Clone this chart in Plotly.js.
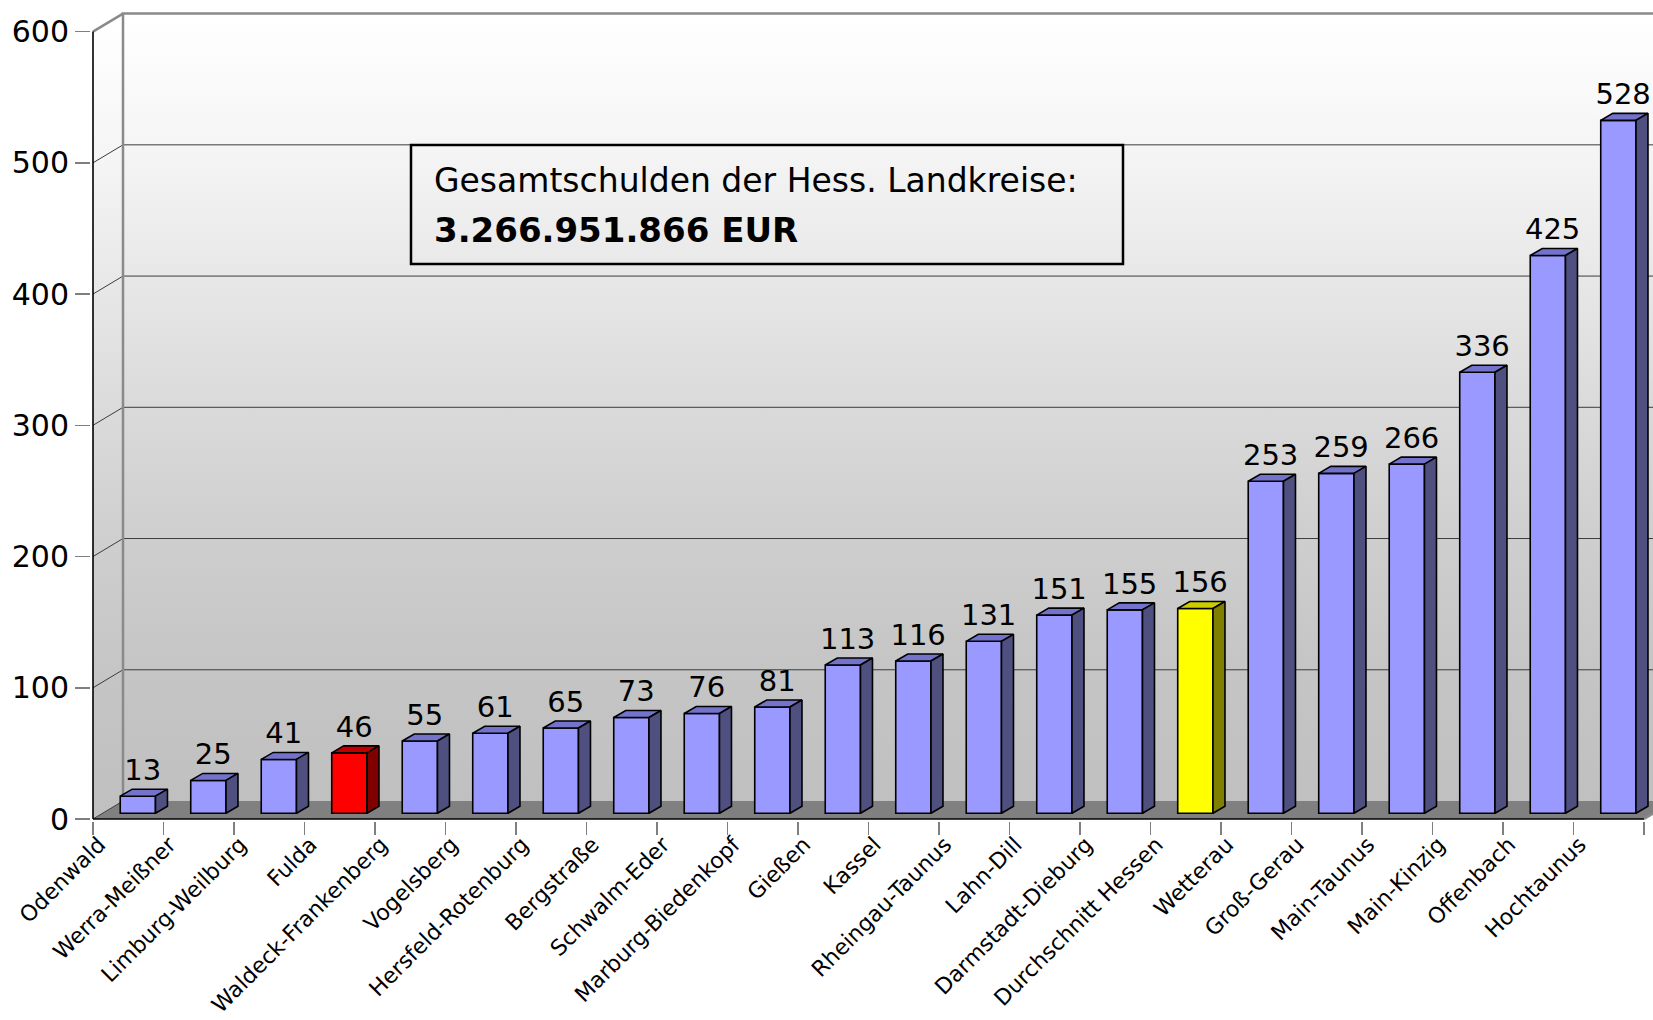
<!DOCTYPE html>
<html>
<head>
<meta charset="utf-8">
<script src="https://cdn.plot.ly/plotly-3.0.1.min.js"></script>
<style>
  html, body { margin: 0; padding: 0; background: #ffffff; }
  #chart { width: 1653px; height: 1020px; }
</style>
</head>
<body>
<div id="chart"></div>
<script>
// ---------------- data ----------------
const categories = ['Odenwald', 'Werra-Meißner', 'Limburg-Weilburg', 'Fulda', 'Waldeck-Frankenberg',
  'Vogelsberg', 'Hersfeld-Rotenburg', 'Bergstraße', 'Schwalm-Eder', 'Marburg-Biedenkopf', 'Gießen',
  'Kassel', 'Rheingau-Taunus', 'Lahn-Dill', 'Darmstadt-Dieburg', 'Durchschnitt Hessen', 'Wetterau',
  'Groß-Gerau', 'Main-Taunus', 'Main-Kinzig', 'Offenbach', 'Hochtaunus'];
const values = [13, 25, 41, 46, 55, 61, 65, 73, 76, 81, 113, 116, 131, 151, 155, 156, 253, 259, 266, 336, 425, 528];
const yTickValues = [0, 100, 200, 300, 400, 500, 600];
const redCategory = 'Fulda';
const yellowCategory = 'Durchschnitt Hessen';
const boxLine1 = 'Gesamtschulden der Hess. Landkreise:';
const boxLine2 = '3.266.951.866 EUR';

// ---------------- geometry / style ----------------
const W = 1653, H = 1020;
const M = { l: 91, r: 0, t: 4, b: 199 };
const plotW = W - M.l - M.r, plotH = H - M.t - M.b;
const Y0PX = 819;                 // pixel row of value 0 on the front plane
const KY = 787.4 / 600;           // px per value unit
const XLPX = 93;                  // pixel column of the front-left corner
const KX = 70.5;                  // px per category
const yMax = yTickValues[yTickValues.length - 1];
const n = categories.length;

const xStart = -0.5 - (XLPX - M.l) / KX;
const xRange = [xStart, xStart + plotW / KX];
const yRange = [-((H - M.b) - Y0PX) / KY, (Y0PX - M.t) / KY];

const DX = 30 / KX, DY = 18 / KY;        // depth of the 3D box
const f1 = 0.32;                          // depth of bar front plane
const bx = f1 * DX, bz = f1 * DY;
const sdx = 12 / KX, sdy = 7 / KY;        // depth of each bar
const barW = 0.5;
const labelLift = 2 / KY;

const FONT = 'DejaVu Sans, Verdana, sans-serif';
const bgScale = [[0, '#c0c0c0'], [0.17, '#c5c5c5'], [0.33, '#cecece'], [0.5, '#dadada'],
                 [0.67, '#e8e8e8'], [0.83, '#f5f5f5'], [1, '#ffffff']];

function colorsFor(cat) {
  if (cat === redCategory) return { front: '#ff0000', top: '#c00000', side: '#800000' };
  if (cat === yellowCategory) return { front: '#ffff00', top: '#cccc00', side: '#808000' };
  return { front: '#9999ff', top: '#7373cc', side: '#4f4f80' };
}

const traces = [];
const xL = -0.5, xR = n - 0.5, xFar = xRange[1] + 1;

// back wall
traces.push({
  type: 'scatter', mode: 'none', fill: 'toself', hoverinfo: 'skip',
  x: [xL + DX, xFar, xFar, xL + DX, xL + DX],
  y: [DY, DY, yMax + DY, yMax + DY, DY],
  fillgradient: { type: 'vertical', colorscale: bgScale, start: DY, stop: yMax + DY }
});
// left side wall
traces.push({
  type: 'scatter', mode: 'none', fill: 'toself', hoverinfo: 'skip',
  x: [xL, xL + DX, xL + DX, xL, xL],
  y: [0, DY, yMax + DY, yMax, 0],
  fillgradient: { type: 'vertical', colorscale: bgScale, start: DY / 2, stop: yMax + DY / 2 }
});
// floor
traces.push({
  type: 'scatter', mode: 'none', fill: 'toself', fillcolor: '#808080', hoverinfo: 'skip',
  x: [xL, xR, xR + DX, xFar, xFar, xL + DX, xL],
  y: [0, 0, DY, DY, DY, DY, 0]
});
// gridlines (back wall) + side diagonals
const gx = [], gy = [];
yTickValues.forEach(v => {
  if (v > 0 && v < yMax) { gx.push(xL + DX, xFar, null); gy.push(v + DY, v + DY, null); }
  if (v < yMax) { gx.push(xL, xL + DX, null); gy.push(v, v + DY, null); }
});
traces.push({ type: 'scatter', mode: 'lines', x: gx, y: gy, hoverinfo: 'skip',
  line: { color: '#3c3c3c', width: 1 } });
// wall edges (gray)
traces.push({ type: 'scatter', mode: 'lines', hoverinfo: 'skip',
  x: [xL + DX, xL + DX, xFar, null, xL, xL + DX, null, xR, xR + DX],
  y: [DY, yMax + DY, yMax + DY, null, yMax, yMax + DY, null, 0, DY],
  line: { color: '#8a8a8a', width: 2.5 } });
// front axis lines (black)
traces.push({ type: 'scatter', mode: 'lines', hoverinfo: 'skip',
  x: [xL, xL, null, xL, xR], y: [yMax, 0, null, 0, 0],
  line: { color: '#000000', width: 1.6 } });

// ---------------- bars (overlay axes) ----------------
const idx = categories.map((c, i) => i);
const frontColors = categories.map(c => colorsFor(c).front);
traces.push({
  type: 'bar', xaxis: 'x2', yaxis: 'y2', hoverinfo: 'skip',
  x: idx.map(i => i + bx), y: values, base: bz, width: barW,
  marker: { color: frontColors, line: { color: '#000000', width: 1.6 } }
});
categories.forEach((cat, i) => {
  const c = colorsFor(cat);
  const xl = i + bx - barW / 2, xr = i + bx + barW / 2;
  const top = bz + values[i];
  traces.push({ type: 'scatter', mode: 'lines', fill: 'toself', xaxis: 'x2', yaxis: 'y2', hoverinfo: 'skip',
    x: [xl, xr, xr + sdx, xl + sdx, xl], y: [top, top, top + sdy, top + sdy, top],
    fillcolor: c.top, line: { color: '#000000', width: 1.6 } });
  traces.push({ type: 'scatter', mode: 'lines', fill: 'toself', xaxis: 'x2', yaxis: 'y2', hoverinfo: 'skip',
    x: [xr, xr, xr + sdx, xr + sdx, xr], y: [bz, top, top + sdy, bz + sdy, bz],
    fillcolor: c.side, line: { color: '#000000', width: 1.6 } });
});
// value labels
traces.push({
  type: 'scatter', mode: 'text', xaxis: 'x2', yaxis: 'y2', hoverinfo: 'skip', cliponaxis: false,
  x: idx.map(i => i + bx + sdx * 0.4), y: values.map(v => bz + v + sdy + labelLift),
  text: values.map(v => String(v)), textposition: 'top center',
  textfont: { family: FONT, size: 29, color: '#000000' }
});

// ---------------- layout ----------------
const px2paperX = p => (p - M.l) / plotW;
const px2paperY = p => (H - M.b - p) / plotH;

const tickVals = [];
const tickText = [];
for (let i = 0; i <= n; i++) { tickVals.push(i - 0.5); tickText.push(i < n ? categories[i] : ''); }

const layout = {
  width: W, height: H,
  margin: M,
  paper_bgcolor: '#ffffff', plot_bgcolor: 'rgba(0,0,0,0)',
  showlegend: false, hovermode: false,
  font: { family: FONT, color: '#000000' },
  xaxis: {
    range: xRange, showgrid: false, zeroline: false, showline: false,
    tickmode: 'array', tickvals: tickVals, ticktext: tickText,
    ticks: 'outside', ticklen: 13, tickwidth: 1.5, tickcolor: '#7f7f7f',
    tickangle: -45, ticklabelstandoff: -12, ticklabelshift: 6,
    tickfont: { family: FONT, size: 22, color: '#000000' }
  },
  yaxis: {
    range: yRange, showgrid: false, zeroline: false, showline: false,
    tickmode: 'array', tickvals: yTickValues,
    ticks: 'outside', ticklen: 15, tickwidth: 1.5, tickcolor: '#7f7f7f',
    tickfont: { family: FONT, size: 30, color: '#000000' }
  },
  xaxis2: { overlaying: 'x', range: xRange, visible: false },
  yaxis2: { overlaying: 'y', range: yRange, visible: false },
  shapes: [{
    type: 'rect', xref: 'paper', yref: 'paper',
    x0: px2paperX(411), x1: px2paperX(1123), y0: px2paperY(264), y1: px2paperY(145),
    line: { color: '#000000', width: 2.5 }, fillcolor: 'rgba(0,0,0,0)'
  }],
  annotations: [
    { xref: 'paper', yref: 'paper', x: px2paperX(432), y: px2paperY(181), xanchor: 'left', yanchor: 'middle',
      text: boxLine1, showarrow: false, font: { family: FONT, size: 33, color: '#000000' } },
    { xref: 'paper', yref: 'paper', x: px2paperX(432), y: px2paperY(230), xanchor: 'left', yanchor: 'middle',
      text: '<b>' + boxLine2 + '</b>', showarrow: false, font: { family: FONT, size: 34, color: '#000000' } }
  ]
};

Plotly.newPlot('chart', traces, layout, { displayModeBar: false, staticPlot: true });
</script>
</body>
</html>
